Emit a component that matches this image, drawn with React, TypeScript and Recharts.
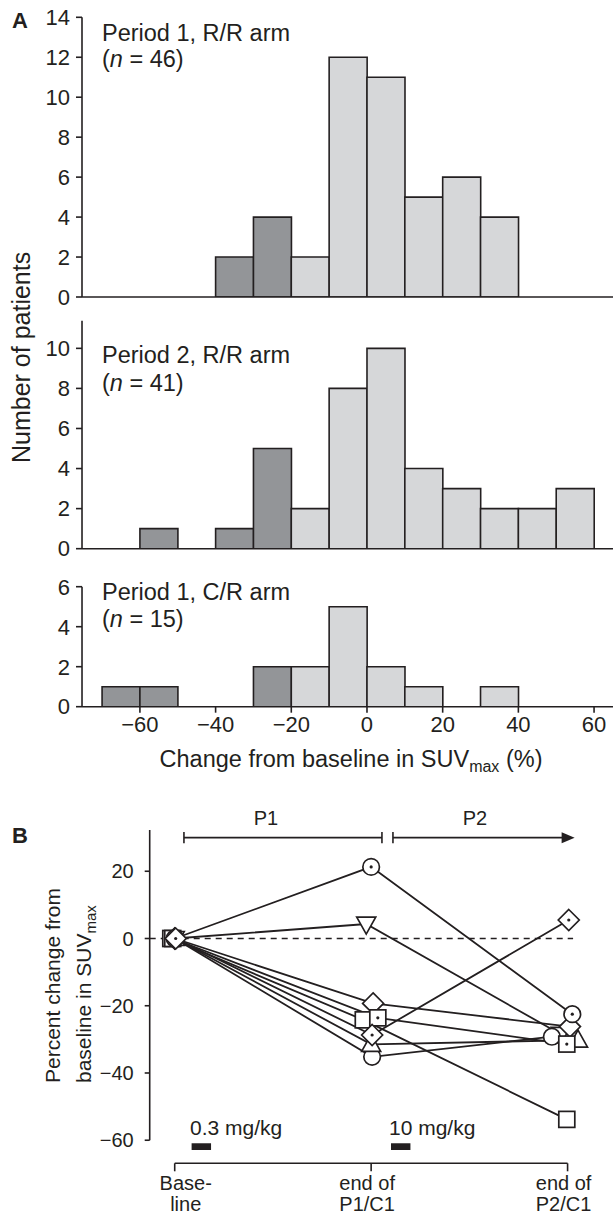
import React from 'react';
import {
  ComposedChart,
  Bar,
  Cell,
  Line,
  XAxis,
  YAxis,
  ReferenceLine,
  ReferenceArea,
  ReferenceDot
} from 'recharts';

const INK = '#231f20';
const DARK = '#939598';
const LIGHT = '#d6d7d9';
const FONT = '"Liberation Sans", Arial, Helvetica, sans-serif';

// Panel A: histogram bins of 10 % (bin centres)
const BIN_CENTERS = [-65, -55, -45, -35, -25, -15, -5, 5, 15, 25, 35, 45, 55];
const P1_RR_COUNTS = [0, 0, 0, 2, 4, 2, 12, 11, 5, 6, 4, 0, 0];
const P2_RR_COUNTS = [0, 1, 0, 1, 5, 2, 8, 10, 4, 3, 2, 2, 3];
const P1_CR_COUNTS = [1, 1, 0, 0, 2, 2, 5, 2, 1, 0, 1, 0, 0];
const HIST_X_TICKS = [-60, -40, -20, 0, 20, 40, 60];
const P1_RR_Y_TICKS = [0, 2, 4, 6, 8, 10, 12, 14];
const P2_RR_Y_TICKS = [0, 2, 4, 6, 8, 10];
const P1_CR_Y_TICKS = [0, 2, 4, 6];

// Panel B: percent change from baseline in SUVmax, per patient
const TIMEPOINT_LABELS = [['Base-', 'line'], ['end of', 'P1/C1'], ['end of', 'P2/C1']];
const TIMEPOINT_TICKS = [0, 1, 2];
const B_Y_TICKS = [-60, -40, -20, 0, 20];

const CIRCLE_DOT_Y = [0, 21.3, -22.5];
const INV_TRIANGLE_Y = [0, 4.3, -28.5];
const DIAMOND_Y = [0, -19.3, -26.2];
const SQUARE_Y = [0, -24.2, -53.8];
const SQUARE_DOT_Y = [0, -23.6, -31.4];
const DIAMOND_DOT_Y = [0, -28.7, 5.5];
const TRIANGLE_Y = [0, -31.5, -30.2];
const CIRCLE_Y = [0, -35.2, -29.2];

// plotted x of each point (symbols are nudged apart where they crowd)
const CIRCLE_DOT_X = [0, 1.0, 2.024];
const INV_TRIANGLE_X = [0, 0.975, 1.965];
const DIAMOND_X = [0, 1.01, 2.012];
const SQUARE_X = [-0.02, 0.96, 1.996];
const SQUARE_DOT_X = [-0.01, 1.034, 1.996];
const DIAMOND_DOT_X = [0.005, 1.005, 2.006];
const TRIANGLE_X = [0, 1.0, 2.053];
const CIRCLE_X = [0, 1.005, 1.92];

// drawing order = stacking order of the symbols
const PATIENTS = [
  { id: 'invtri', shape: 'invtri', dotted: false, xs: INV_TRIANGLE_X, ys: INV_TRIANGLE_Y },
  { id: 'circle', shape: 'circle', dotted: false, xs: CIRCLE_X, ys: CIRCLE_Y },
  { id: 'tri', shape: 'tri', dotted: false, xs: TRIANGLE_X, ys: TRIANGLE_Y },
  { id: 'diamond', shape: 'diamond', dotted: false, xs: DIAMOND_X, ys: DIAMOND_Y },
  { id: 'square', shape: 'square', dotted: false, xs: SQUARE_X, ys: SQUARE_Y },
  { id: 'squaredot', shape: 'square', dotted: true, xs: SQUARE_DOT_X, ys: SQUARE_DOT_Y },
  { id: 'circledot', shape: 'circle', dotted: true, xs: CIRCLE_DOT_X, ys: CIRCLE_DOT_Y },
  { id: 'diamonddot', shape: 'diamond', dotted: true, xs: DIAMOND_DOT_X, ys: DIAMOND_DOT_Y }
];

const minus = (v: number) => (v < 0 ? '\u2212' + Math.abs(v) : String(v));

const tickStyle = { fill: INK, fontSize: 22, fontFamily: FONT };

interface HistProps {
  counts: number[];
  yMax: number;
  yTicks: number[];
  top: number;
  height: number;
  marginTop: number;
  axisHeight: number;
  showLabels: boolean;
}

const Histogram = ({ counts, yMax, yTicks, top, height, marginTop, axisHeight, showLabels }: HistProps) => {
  const data = BIN_CENTERS.map((x, i) => ({ x, n: counts[i] }));
  return (
    <div style={{ position: 'absolute', left: 0, top, width: 613, height }}>
      <ComposedChart
        width={613}
        height={height}
        data={data}
        margin={{ top: marginTop, right: 0, bottom: 0, left: 0 }}
        barCategoryGap={0}
        barGap={0}
      >
        <XAxis
          dataKey="x"
          type="number"
          domain={[-75.3, 65]}
          ticks={HIST_X_TICKS}
          interval={0}
          allowDataOverflow
          height={axisHeight}
          stroke={INK}
          axisLine={{ strokeWidth: 1.6 }}
          tickLine={{ strokeWidth: 1.6 }}
          tickSize={6}
          tickMargin={4}
          tick={showLabels ? tickStyle : false}
          tickFormatter={minus}
        />
        <YAxis
          type="number"
          domain={[0, yMax]}
          ticks={yTicks}
          interval={0}
          allowDataOverflow
          width={82}
          stroke={INK}
          axisLine={{ strokeWidth: 1.6 }}
          tickLine={{ strokeWidth: 1.6 }}
          tickSize={6}
          tickMargin={6}
          tick={tickStyle}
        />
        <Bar dataKey="n" stroke={INK} strokeWidth={1.6} isAnimationActive={false}>
          {data.map((d, i) => (
            <Cell key={i} fill={d.x < -20 ? DARK : LIGHT} />
          ))}
        </Bar>
      </ComposedChart>
    </div>
  );
};

const Marker = ({ cx, cy, shape, dotted }: any) => {
  if (cx == null || cy == null) return null;
  const st = { fill: '#fff', stroke: INK, strokeWidth: 1.7 };
  let body = null;
  if (shape === 'circle') body = <circle cx={cx} cy={cy} r={8.3} {...st} />;
  if (shape === 'square') body = <rect x={cx - 8} y={cy - 8} width={16} height={16} {...st} />;
  if (shape === 'diamond')
    body = <polygon points={`${cx},${cy - 10.5} ${cx + 10.5},${cy} ${cx},${cy + 10.5} ${cx - 10.5},${cy}`} {...st} />;
  if (shape === 'tri')
    body = <polygon points={`${cx},${cy - 10} ${cx + 9.5},${cy + 7} ${cx - 9.5},${cy + 7}`} {...st} />;
  if (shape === 'invtri')
    body = <polygon points={`${cx - 9.5},${cy - 7} ${cx + 9.5},${cy - 7} ${cx},${cy + 10}`} {...st} />;
  return (
    <g>
      {body}
      {dotted && <circle cx={cx} cy={cy} r={1.6} fill={INK} />}
    </g>
  );
};

const TimeTick = ({ x, y, payload }: any) => {
  const dx = [11, -4, -4][payload.value] ?? 0;
  const lines = TIMEPOINT_LABELS[payload.value] || ['', ''];
  return (
    <g>
      <text x={x + dx} y={y + 17} textAnchor="middle" fill={INK} fontSize={20} fontFamily={FONT}>
        {lines[0]}
      </text>
      <text x={x + dx} y={y + 38} textAnchor="middle" fill={INK} fontSize={20} fontFamily={FONT}>
        {lines[1]}
      </text>
    </g>
  );
};

const Arrowhead = ({ cx, cy }: any) => (
  <polygon points={`${cx},${cy} ${cx - 13},${cy - 5.5} ${cx - 13},${cy + 5.5}`} fill={INK} />
);

const XB_MIN = -0.1273;
const YB_MIN = -66.86;

const SuvChart = () => (
  <div style={{ position: 'absolute', left: 0, top: 780, width: 613, height: 439 }}>
    <ComposedChart width={613} height={439} margin={{ top: 50, right: 0, bottom: 0, left: 0 }}>
      <XAxis
        dataKey="x"
        type="number"
        domain={[XB_MIN, 2.2312]}
        ticks={TIMEPOINT_TICKS}
        interval={0}
        allowDataOverflow
        height={55.7}
        stroke={INK}
        axisLine={false}
        tickLine={{ strokeWidth: 1.6 }}
        tickSize={8}
        tick={<TimeTick />}
      />
      <YAxis
        type="number"
        domain={[YB_MIN, 32.27]}
        ticks={B_Y_TICKS}
        interval={0}
        allowDataOverflow
        width={149.7}
        stroke={INK}
        axisLine={false}
        tickLine={{ strokeWidth: 1.6 }}
        tickSize={5}
        tickMargin={11}
        tick={{ ...tickStyle, fontSize: 20 }}
        tickFormatter={minus}
      />
      {/* axes drawn as segments: y-axis stops at -60, x-axis spans baseline..P2 */}
      <ReferenceLine segment={[{ x: XB_MIN, y: -60 }, { x: XB_MIN, y: 32.27 }]} stroke={INK} strokeWidth={1.6} />
      <ReferenceLine segment={[{ x: 0, y: YB_MIN }, { x: 2, y: YB_MIN }]} stroke={INK} strokeWidth={1.6} />
      <ReferenceLine
        segment={[{ x: XB_MIN, y: 0 }, { x: 2.028, y: 0 }]}
        stroke={INK}
        strokeWidth={1.4}
        strokeDasharray="6 5"
      />
      {/* P1 / P2 period brackets */}
      <ReferenceLine segment={[{ x: 0.047, y: 30 }, { x: 1.055, y: 30 }]} stroke={INK} strokeWidth={1.6} />
      <ReferenceLine segment={[{ x: 0.047, y: 28.3 }, { x: 0.047, y: 31.7 }]} stroke={INK} strokeWidth={1.6} />
      <ReferenceLine segment={[{ x: 1.055, y: 28.3 }, { x: 1.055, y: 31.7 }]} stroke={INK} strokeWidth={1.6} />
      <ReferenceLine segment={[{ x: 1.111, y: 28.3 }, { x: 1.111, y: 31.7 }]} stroke={INK} strokeWidth={1.6} />
      <ReferenceLine segment={[{ x: 1.111, y: 30 }, { x: 2.0, y: 30 }]} stroke={INK} strokeWidth={1.6} />
      <ReferenceDot x={2.036} y={30} r={1} shape={<Arrowhead />} />
      {/* dosing bars */}
      <ReferenceArea x1={0.086} x2={0.185} y1={-62.9} y2={-60.9} fill={INK} fillOpacity={1} stroke="none" />
      <ReferenceArea x1={1.101} x2={1.2} y1={-62.9} y2={-60.9} fill={INK} fillOpacity={1} stroke="none" />

      {PATIENTS.map((p) => (
        <Line
          key={'l-' + p.id}
          data={p.xs.map((x, i) => ({ x, y: p.ys[i] }))}
          dataKey="y"
          stroke={INK}
          strokeWidth={1.8}
          dot={false}
          activeDot={false}
          isAnimationActive={false}
        />
      ))}
      {PATIENTS.map((p) => (
        <Line
          key={'m-' + p.id}
          data={p.xs.map((x, i) => ({ x, y: p.ys[i] }))}
          dataKey="y"
          stroke="none"
          activeDot={false}
          isAnimationActive={false}
          dot={(props: any) => (
            <Marker key={p.id + props.index} cx={props.cx} cy={props.cy} shape={p.shape} dotted={p.dotted} />
          )}
        />
      ))}
    </ComposedChart>
  </div>
);

const NLine = ({ x, y, n }: { x: number; y: number; n: number }) => (
  <text x={x} y={y} fontSize={23.5}>
    (<tspan fontStyle="italic">n</tspan> = {n})
  </text>
);

export default function App() {
  return (
    <div
      style={{
        position: 'absolute',
        left: 0,
        top: 0,
        width: 613,
        height: 1219,
        background: '#fff',
        fontFamily: FONT,
        overflow: 'hidden'
      }}
    >
      <Histogram counts={P1_RR_COUNTS} yMax={14} yTicks={P1_RR_Y_TICKS} top={0} height={310} marginTop={17.3} axisHeight={13} showLabels={false} />
      <Histogram counts={P2_RR_COUNTS} yMax={11.38} yTicks={P2_RR_Y_TICKS} top={310} height={251.7} marginTop={10.7} axisHeight={13} showLabels={false} />
      <Histogram counts={P1_CR_COUNTS} yMax={6} yTicks={P1_CR_Y_TICKS} top={562} height={184.7} marginTop={24.7} axisHeight={40} showLabels />
      <SuvChart />

      <svg
        width={613}
        height={1219}
        style={{ position: 'absolute', left: 0, top: 0, pointerEvents: 'none' }}
        fontFamily={FONT}
        fill={INK}
      >
        <text x={12} y={28} fontSize={22} fontWeight="bold">A</text>
        <text x={12} y={843} fontSize={22} fontWeight="bold">B</text>

        <text x={102} y={41} fontSize={23.5}>Period 1, R/R arm</text>
        <NLine x={102} y={67} n={46} />
        <text x={102} y={363} fontSize={23.5}>Period 2, R/R arm</text>
        <NLine x={102} y={391} n={41} />
        <text x={102} y={600} fontSize={23.5}>Period 1, C/R arm</text>
        <NLine x={102} y={627} n={15} />

        <text transform="translate(30,463) rotate(-90)" fontSize={25}>Number of patients</text>
        <text x={351} y={767} fontSize={23.5} textAnchor="middle">
          Change from baseline in SUV<tspan fontSize={16} dy={5}>max</tspan>
          <tspan dy={-5}> (%)</tspan>
        </text>

        <text transform="translate(60,1083) rotate(-90)" fontSize={21}>Percent change from</text>
        <text transform="translate(91,1083) rotate(-90)" fontSize={21}>
          baseline in SUV<tspan fontSize={15} dy={5}>max</tspan>
        </text>

        <text x={266} y={825} fontSize={20} textAnchor="middle">P1</text>
        <text x={475} y={825} fontSize={20} textAnchor="middle">P2</text>
        <text x={190} y={1135} fontSize={21}>0.3 mg/kg</text>
        <text x={389} y={1135} fontSize={21}>10 mg/kg</text>
      </svg>
    </div>
  );
}
